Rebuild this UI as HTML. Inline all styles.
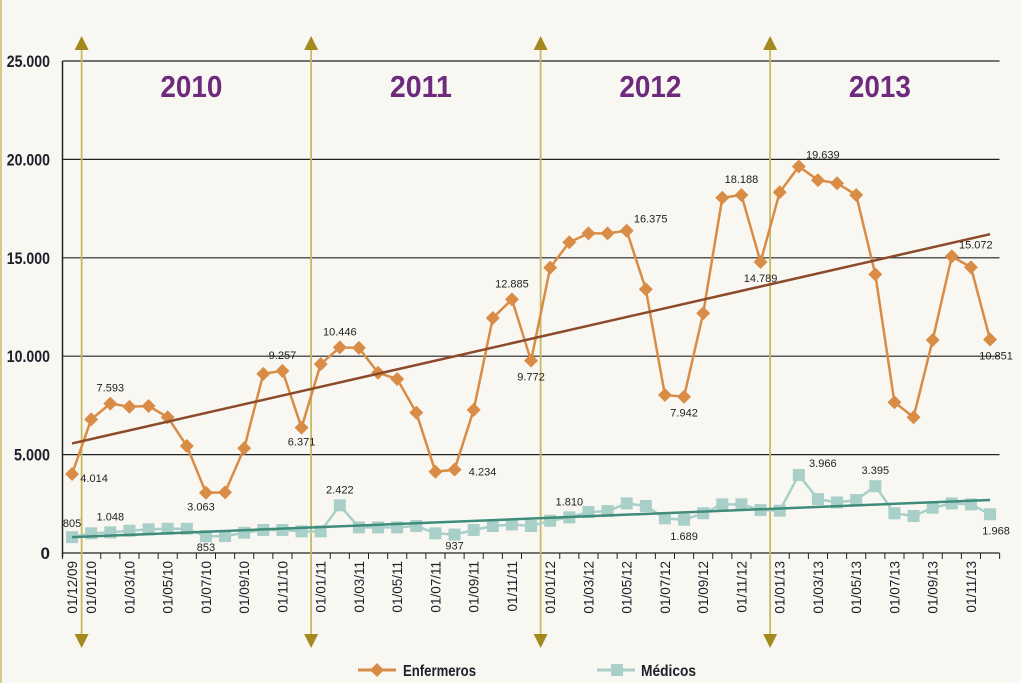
<!DOCTYPE html>
<html><head><meta charset="utf-8"><style>
html,body{margin:0;padding:0;background:#f9f7f2;}
svg{display:block;font-family:"Liberation Sans",sans-serif;}
</style></head><body>
<svg id="chart" width="1021" height="683" viewBox="0 0 1021 683">
<rect x="0" y="0" width="1021" height="683" fill="#f9f7f2"/>
<line x1="1" y1="0" x2="1" y2="683" stroke="#d8c98a" stroke-width="2"/>
<g id="grid"></g><g id="years"></g><g id="series"></g><g id="labels"></g>
<g>
 <g>
  <line x1="358" y1="670" x2="396" y2="670" stroke="#d98c45" stroke-width="3"/>
  <path d="M377 663 L384 670 L377 677 L370 670 Z" fill="#d98c45"/>
  <text x="403" y="676" font-size="16" font-weight="bold" fill="#1e1e2a" textLength="73" lengthAdjust="spacingAndGlyphs">Enfermeros</text>
 </g>
 <g>
  <line x1="597" y1="670" x2="635" y2="670" stroke="#a8cfc8" stroke-width="3"/>
  <rect x="611" y="664" width="12" height="12" fill="#a8cfc8"/>
  <text x="641" y="676" font-size="16" font-weight="bold" fill="#1e1e2a" textLength="55" lengthAdjust="spacingAndGlyphs">Médicos</text>
 </g>
</g>
</svg>
<script>
const categories=["01/12/09","01/01/10","01/02/10","01/03/10","01/04/10","01/05/10","01/06/10","01/07/10","01/08/10","01/09/10","01/10/10","01/11/10","01/12/10","01/01/11","01/02/11","01/03/11","01/04/11","01/05/11","01/06/11","01/07/11","01/08/11","01/09/11","01/10/11","01/11/11","01/12/11","01/01/12","01/02/12","01/03/12","01/04/12","01/05/12","01/06/12","01/07/12","01/08/12","01/09/12","01/10/12","01/11/12","01/12/12","01/01/13","01/02/13","01/03/13","01/04/13","01/05/13","01/06/13","01/07/13","01/08/13","01/09/13","01/10/13","01/11/13","01/12/13"];
const enfermeros=[4014,6790,7593,7430,7470,6900,5440,3063,3080,5320,9100,9257,6371,9600,10446,10420,9160,8840,7130,4130,4234,7270,11940,12885,9772,14500,15790,16240,16240,16375,13400,8030,7942,12180,18050,18188,14789,18330,19639,18950,18790,18190,14160,7660,6900,10820,15072,14520,10851];
const medicos=[805,1000,1048,1130,1200,1230,1230,853,860,1030,1170,1170,1100,1100,2422,1300,1300,1300,1370,1000,937,1170,1370,1450,1370,1640,1810,2080,2130,2520,2390,1760,1689,2020,2470,2470,2180,2150,3966,2740,2570,2690,3395,2020,1880,2300,2520,2470,1968];
const yTicks=[0,5000,10000,15000,20000,25000];
const yTickLabels=["0","5.000","10.000","15.000","20.000","25.000"];
const years=["2010","2011","2012","2013"];
const yearStartIdx=[1,13,25,37];
const enfLabelIdx=[0,2,7,11,12,14,20,23,24,29,32,35,36,38,46,48];
const medLabelIdx=[0,2,7,14,20,26,32,38,42,48];

const NS="http://www.w3.org/2000/svg";
const X0=62.5,STEP=19.125,Y0=553,YMAX=25000,H=492;
const x=i=>X0+STEP*(i+0.5);
const y=v=>Y0-v/YMAX*H;
const fmt=v=>v>=1000?Math.floor(v/1000)+"."+String(v%1000).padStart(3,"0"):String(v);
function mk(tag,attrs,parent){const e=document.createElementNS(NS,tag);for(const k in attrs)e.setAttribute(k,attrs[k]);parent.appendChild(e);return e;}
const grid=document.getElementById("grid"),yrs=document.getElementById("years"),ser=document.getElementById("series"),lab=document.getElementById("labels");

yTicks.forEach((t,i)=>{
 const l=mk("line",{x1:X0,x2:999.5,y1:y(t),y2:y(t),stroke:"#222","stroke-width":1.2},grid);
 
 
 const s=yTickLabels[i];
 const attrs={x:50,y:y(t)+6,"text-anchor":"end","font-size":17,"font-weight":"bold",fill:"#1e1e2a"};
 if(s.length>1){attrs.textLength=s.length*7.2;attrs.lengthAdjust="spacingAndGlyphs";}
 const tx=mk("text",attrs,grid);
 tx.textContent=s;
 
 
});
const ax=mk("line",{x1:X0,x2:X0,y1:y(25000),y2:Y0+4,stroke:"#222","stroke-width":1.5},grid);


for(let i=0;i<=categories.length;i++){
 const xx=X0+STEP*i;
 const t=mk("line",{x1:xx,x2:xx,y1:Y0,y2:Y0+6,stroke:"#222","stroke-width":1},grid);
 
 
}
categories.forEach((c,i)=>{
 if(i!==0&&i%2===0)return;
 const tx=mk("text",{x:0,y:0,transform:`translate(${x(i)+5},${Y0+8}) rotate(-90)`,"text-anchor":"end","font-size":13.5,fill:"#1e1e2a"},grid);
 tx.textContent=c;
 
 
});

years.forEach((yr,k)=>{
 const xx=X0+STEP*yearStartIdx[k];
 const l=mk("line",{x1:xx,x2:xx,y1:44,y2:640,stroke:"#c9b865","stroke-width":1.8},yrs);
 
 
 const a1=mk("path",{d:`M${xx} 36 L${xx+7} 50 L${xx-7} 50 Z`,fill:"#a48a1e"},yrs);
 
 
 const a2=mk("path",{d:`M${xx} 648 L${xx+7} 634 L${xx-7} 634 Z`,fill:"#a48a1e"},yrs);
 
 
 const tx=mk("text",{x:xx+STEP*6-5,y:97,"text-anchor":"middle","font-size":31,"font-weight":"bold",fill:"#6e2a7c",textLength:62,lengthAdjust:"spacingAndGlyphs"},yrs);
 tx.textContent=yr;
 
 
});

function trend(d){const n=d.length;let sx=0,sy=0,sxy=0,sxx=0;d.forEach((v,i)=>{sx+=i;sy+=v;sxy+=i*v;sxx+=i*i;});const b=(n*sxy-sx*sy)/(n*sxx-sx*sx);const a=(sy-b*sx)/n;return [a,a+b*(n-1)];}
function drawSeries(d,color,tcolor,shape,name){
 const pl=mk("polyline",{points:d.map((v,i)=>x(i)+","+y(v)).join(" "),fill:"none",stroke:color,"stroke-width":2.5},ser);
 
 
 d.forEach((v,i)=>{
  let m;
  if(shape==="d")m=mk("path",{d:`M${x(i)} ${y(v)-7} L${x(i)+7} ${y(v)} L${x(i)} ${y(v)+7} L${x(i)-7} ${y(v)} Z`,fill:color},ser);
  else m=mk("rect",{x:x(i)-6,y:y(v)-6,width:12,height:12,fill:color},ser);
  
  
 });
 const [a,b]=trend(d);
 const t=mk("line",{x1:x(0),y1:y(a),x2:x(d.length-1),y2:y(b),stroke:tcolor,"stroke-width":2.5},ser);
 
 
}
drawSeries(medicos,"#a8cfc8","#3f8c7b","s","medicos");
drawSeries(enfermeros,"#d98c45","#8c4a2b","d","enfermeros");

function lbl(d,idx,name){
 idx.forEach(i=>{
  const v=d[i],prev=d[i-1]??v,next=d[i+1]??v;
  const isMin=v<=prev&&v<=next;
  let dx=0,dy=isMin?20:-12;
  if(i===0&&name==="enfermeros"){dx=22;dy=8;}
  if(i===0&&name==="medicos"){dx=0;dy=-10;}
  if(i===48){dx=6;dy=20;}
  if(i===29||i===38||i===46){dx=24;dy=-8;}
  if(i===20&&name==="enfermeros"){dx=28;dy=6;}
  if(i===7&&name==="enfermeros"){dx=-5;dy=18;}
  if(i===12){dx=0;dy=18;}
  if(name==="medicos"&&(i===7||i===20)){dy=15;}
  const tx=mk("text",{x:x(i)+dx,y:y(v)+dy,"text-anchor":"middle","font-size":11,fill:"#222"},lab);
  tx.textContent=fmt(v);
  
  
 });
}
lbl(enfermeros,enfLabelIdx,"enfermeros");
lbl(medicos,medLabelIdx,"medicos");
</script>
</body></html>
